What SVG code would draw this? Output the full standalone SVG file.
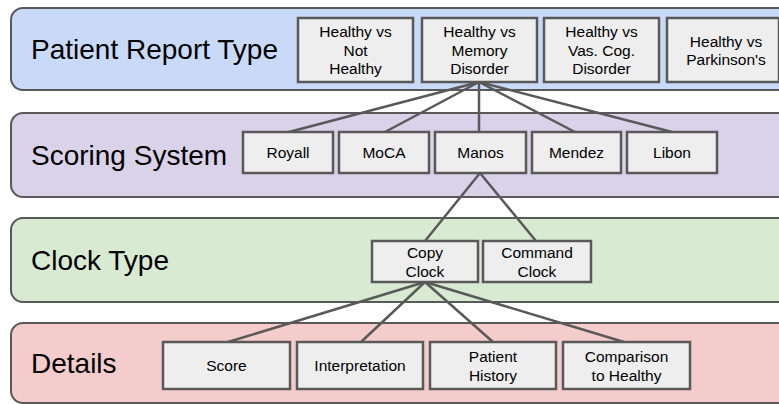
<svg xmlns="http://www.w3.org/2000/svg" width="779" height="404" viewBox="0 0 779 404">
<style>
.band{stroke:#595959;stroke-width:2}
.box{fill:#eeeeee;stroke:#595959;stroke-width:2.5}
.title{font-family:"Liberation Sans",Arial,sans-serif;font-size:28px;fill:#000}
.lbl{font-family:"Liberation Sans",Arial,sans-serif;font-size:15.5px;fill:#000;text-anchor:middle}
.conn line{stroke:#595959;stroke-width:2.5;stroke-linecap:round}
</style>
<rect width="779" height="404" fill="#ffffff"/>
<g id="band-report">
<rect class="band" x="11" y="8" width="800" height="82" rx="12" fill="#c9daf8"/>
<text class="title" x="31" y="59">Patient Report Type</text>
</g>
<g id="band-scoring">
<rect class="band" x="11" y="113" width="800" height="84" rx="12" fill="#d9d2e9"/>
<text class="title" x="31" y="165">Scoring System</text>
</g>
<g id="band-clock">
<rect class="band" x="11" y="218" width="800" height="84" rx="12" fill="#d9ead3"/>
<text class="title" x="31" y="270">Clock Type</text>
</g>
<g id="band-details">
<rect class="band" x="11" y="323" width="800" height="80" rx="12" fill="#f4cccc"/>
<text class="title" x="31" y="373">Details</text>
</g>
<g id="connectors" class="conn">
<line x1="479" y1="82" x2="289" y2="132"/>
<line x1="479" y1="82" x2="385" y2="132"/>
<line x1="479" y1="82" x2="479" y2="132"/>
<line x1="479" y1="82" x2="575" y2="132"/>
<line x1="479" y1="82" x2="672" y2="132"/>
<line x1="480" y1="173" x2="425" y2="241"/>
<line x1="480" y1="173" x2="536" y2="241"/>
<line x1="425" y1="282" x2="228" y2="342"/>
<line x1="425" y1="282" x2="361" y2="342"/>
<line x1="425" y1="282" x2="493" y2="342"/>
<line x1="425" y1="282" x2="624" y2="342"/>
</g>
<g id="hvnh">
<rect class="box" x="298" y="18" width="115" height="64"/>
<text class="lbl" x="355.5" y="37">Healthy vs</text>
<text class="lbl" x="355.5" y="55.5">Not</text>
<text class="lbl" x="355.5" y="74">Healthy</text>
</g>
<g id="hvmd">
<rect class="box" x="422" y="18" width="115" height="64"/>
<text class="lbl" x="479.5" y="37">Healthy vs</text>
<text class="lbl" x="479.5" y="55.5">Memory</text>
<text class="lbl" x="479.5" y="74">Disorder</text>
</g>
<g id="hvvcd">
<rect class="box" x="544" y="18" width="115" height="64"/>
<text class="lbl" x="601.5" y="37">Healthy vs</text>
<text class="lbl" x="601.5" y="55.5">Vas. Cog.</text>
<text class="lbl" x="601.5" y="74">Disorder</text>
</g>
<g id="hvp">
<rect class="box" x="667" y="18" width="112" height="64"/>
<text class="lbl" x="726" y="46.5">Healthy vs</text>
<text class="lbl" x="726" y="65">Parkinson's</text>
</g>
<g id="royall">
<rect class="box" x="243" y="132" width="90" height="41"/>
<text class="lbl" x="288" y="158">Royall</text>
</g>
<g id="moca">
<rect class="box" x="339" y="132" width="90" height="41"/>
<text class="lbl" x="384" y="158">MoCA</text>
</g>
<g id="manos">
<rect class="box" x="435" y="132" width="91" height="41"/>
<text class="lbl" x="480.5" y="158">Manos</text>
</g>
<g id="mendez">
<rect class="box" x="532" y="132" width="89" height="41"/>
<text class="lbl" x="576.5" y="158">Mendez</text>
</g>
<g id="libon">
<rect class="box" x="627" y="132" width="90" height="41"/>
<text class="lbl" x="672" y="158">Libon</text>
</g>
<g id="copy-clock">
<rect class="box" x="372" y="241" width="106" height="41"/>
<text class="lbl" x="425" y="257.5">Copy</text>
<text class="lbl" x="425" y="277">Clock</text>
</g>
<g id="command-clock">
<rect class="box" x="483" y="241" width="108" height="41"/>
<text class="lbl" x="537" y="257.5">Command</text>
<text class="lbl" x="537" y="277">Clock</text>
</g>
<g id="score">
<rect class="box" x="163" y="342" width="127" height="47"/>
<text class="lbl" x="226.5" y="371">Score</text>
</g>
<g id="interpretation">
<rect class="box" x="297" y="342" width="126" height="47"/>
<text class="lbl" x="360" y="371">Interpretation</text>
</g>
<g id="patient-history">
<rect class="box" x="430" y="342" width="126" height="47"/>
<text class="lbl" x="493" y="361.5">Patient</text>
<text class="lbl" x="493" y="381">History</text>
</g>
<g id="comparison">
<rect class="box" x="563" y="342" width="127" height="47"/>
<text class="lbl" x="626.5" y="361.5">Comparison</text>
<text class="lbl" x="626.5" y="381">to Healthy</text>
</g>
</svg>
